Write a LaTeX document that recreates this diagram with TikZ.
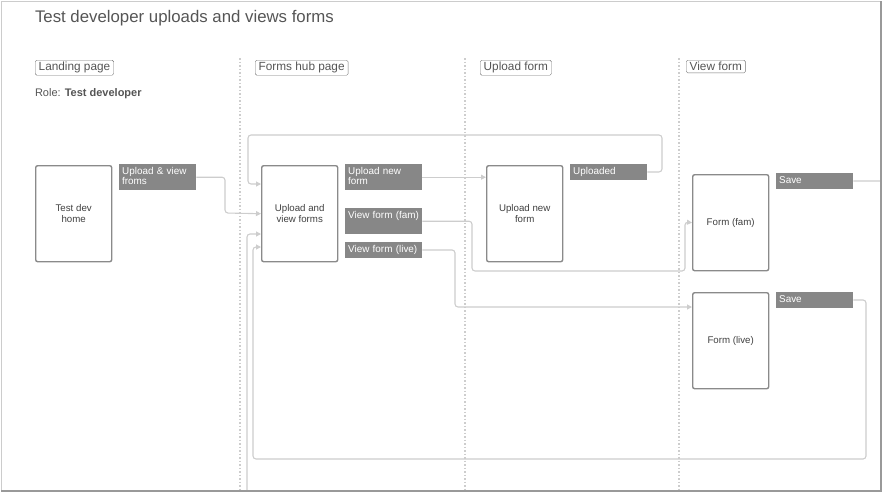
\documentclass[tikz,border=0pt]{standalone}
\usepackage{fontspec}
\setmainfont{Liberation Sans}
\usetikzlibrary{arrows.meta}
\pgfdeclarelayer{bg}
\pgfsetlayers{bg,main}
\definecolor{ink}{HTML}{555555}
\definecolor{rim}{HTML}{8A8A8A}
\definecolor{btnfill}{HTML}{878787}
\definecolor{wirec}{HTML}{CDCDCD}
\tikzset{
    screen/.style={rectangle, draw=rim, line width=1.4pt, rounded corners=2pt, fill=white, minimum width=76pt, minimum height=96pt, anchor=north west, align=center, text=black!75, font=\fontsize{9.7}{11.5}\selectfont},
    btn/.style={rectangle, fill=btnfill, text=white, anchor=north west, text width=73.5pt, inner xsep=1.75pt, inner ysep=2.5pt, align=left, font=\fontsize{9.9}{10.5}\selectfont, execute at begin node=\strut\hspace*{1.2pt}, execute at end node=\strut},
    lane/.style={rectangle, draw=black!55, rounded corners=1.5pt, anchor=north west, inner xsep=3.5pt, inner ysep=2pt, text=ink, font=\fontsize{11.8}{13}\selectfont},
    wire/.style={draw=wirec, line width=1.1pt, rounded corners=3pt, -{Triangle[length=5pt,width=5pt]}},
    lanesep/.style={draw=wirec, line width=1.2pt, dash pattern=on 1.5pt off 2pt}
}
\begin{document}
\begin{tikzpicture}
        \useasboundingbox (0pt,0pt) rectangle (884pt,-496pt);
        \draw[gray!40] (1pt,-491pt) -- (1pt,-1pt) -- (881pt,-1pt);
        \draw[gray!80, line width=1.5pt] (881pt,-1pt) -- (881pt,-491pt) -- (1pt,-491pt);
        \foreach \x in {240,465,679}
                \draw[lanesep] (\x pt,-58pt) -- (\x pt,-490pt);
        \node (t0) [anchor=west, text=ink, font=\fontsize{16.8}{20}\selectfont] at (31.5pt,-18pt) {Test developer uploads and views forms};
        \node (h0) [lane] at (35pt,-60pt) {Landing page};
        \node (h1) [lane] at (255pt,-60pt) {Forms hub page};
        \node (h2) [lane] at (480pt,-60pt) {Upload form};
        \node (h3) [lane] at (686pt,-60pt) {View form};
        \node (r0) [anchor=west, text=ink, font=\fontsize{11}{13}\selectfont] at (31.5pt,-94pt) {Role: \textbf{Test developer}};
        \node (p0) [screen] at (35pt,-165pt) {Test dev\\home};
        \node (p1) [screen] at (261pt,-165pt) {Upload and\\view forms};
        \node (p2) [screen] at (486pt,-165pt) {Upload new\\form};
        \node (p3) [screen] at (692pt,-174pt) {Form (fam)};
        \node (p4) [screen] at (692pt,-292pt) {Form (live)};
        \node (b0) [btn] at (119pt,-164pt) {Upload \& view\\\hspace*{1.2pt}froms};
        \node (b1) [btn] at (345pt,-164pt) {Upload new\\\hspace*{1.2pt}form};
        \node (b2) [btn] at (345pt,-208pt) {View form (fam)\\ };
        \node (b3) [btn] at (345pt,-242pt) {View form (live)};
        \node (b4) [btn] at (570pt,-164pt) {Uploaded};
        \node (b5) [btn] at (776pt,-173pt) {Save};
        \node (b6) [btn] at (776pt,-292pt) {Save};
        \begin{pgfonlayer}{bg}
                \draw[wire] (b0.east) -| (225pt,-213pt) -- (p1.west);
                \draw[wire] (b1.east) -- (b1.east -| p2.west);
                \draw[wire] (b4.east) -| (662pt,-135pt) -| (248pt,-184pt) -- (p1.west |- 0,-184pt);
                \draw[wire] (b2.east) -| (472pt,-271pt) -| (685pt,-222pt) -- (p3.west);
                \draw[wire] (b3.east) -| (455pt,-307pt) -- (p4.west |- 0,-307pt);
                \draw[wire] (b6.east) -| (866pt,-459pt) -| (253pt,-247pt) -- (p1.west |- 0,-247pt);
                \begin{scope}
                        \clip (1pt,-1pt) rectangle (881pt,-491pt);
                        \draw[wire] (b5.east) -| (900pt,-520pt) -| (247pt,-234pt) -- (p1.west |- 0,-234pt);
                \end{scope}
        \end{pgfonlayer}
\end{tikzpicture}
\end{document}
